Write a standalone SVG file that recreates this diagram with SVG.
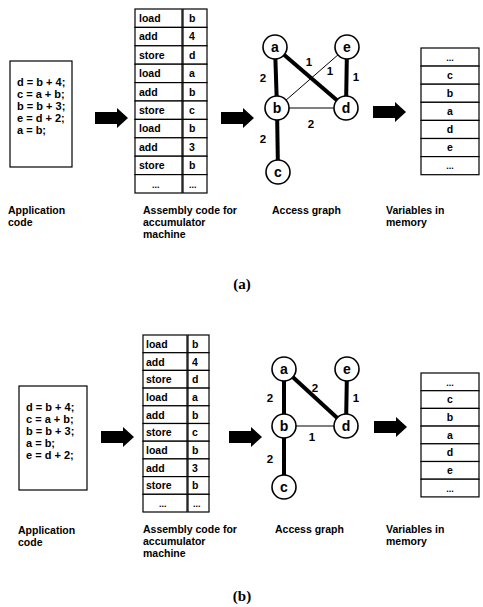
<svg xmlns="http://www.w3.org/2000/svg" width="483" height="607" viewBox="0 0 483 607">
<style>
text{font-family:"Liberation Sans",Arial,sans-serif;font-weight:bold;fill:#000}
.code{font-size:11px}
.cell{font-size:10.5px}
.dots{font-size:9px;fill:#000}
.lbl{font-size:10.5px}
.node{font-size:14px;text-anchor:middle}
.ew{font-size:11.5px;text-anchor:middle}
.mem{font-size:10.5px;text-anchor:middle}
.cap{font-family:"Liberation Serif","Times New Roman",serif;font-size:15px;text-anchor:middle}
.box{fill:#fff;stroke:#000;stroke-width:1.2}
.circ{fill:#fff;stroke:#000;stroke-width:1.6}
.thick{stroke:#000;stroke-width:4}
.thin{stroke:#000;stroke-width:1}
.arr{fill:#000}
</style>
<defs>
<path id="barrow" d="M0,-6 H22 V-10 L33,0 L22,10 V6 H0 Z"/>
</defs>

<!-- ===== Panel (a) ===== -->
<g id="a-code">
<rect class="box" x="10" y="61" width="62" height="106"/>
<text class="code" x="17" y="86">d = b + 4;</text>
<text class="code" x="17" y="98">c = a + b;</text>
<text class="code" x="17" y="110">b = b + 3;</text>
<text class="code" x="17" y="122">e = d + 2;</text>
<text class="code" x="17" y="134">a = b;</text>
</g>
<g id="a-asm">
<rect class="box" x="135" y="9" width="47" height="18.4"/><rect class="box" x="183" y="9" width="24" height="18.4"/>
<rect class="box" x="135" y="27.4" width="47" height="18.4"/><rect class="box" x="183" y="27.4" width="24" height="18.4"/>
<rect class="box" x="135" y="45.8" width="47" height="18.4"/><rect class="box" x="183" y="45.8" width="24" height="18.4"/>
<rect class="box" x="135" y="64.2" width="47" height="18.4"/><rect class="box" x="183" y="64.2" width="24" height="18.4"/>
<rect class="box" x="135" y="82.6" width="47" height="18.4"/><rect class="box" x="183" y="82.6" width="24" height="18.4"/>
<rect class="box" x="135" y="101" width="47" height="18.4"/><rect class="box" x="183" y="101" width="24" height="18.4"/>
<rect class="box" x="135" y="119.4" width="47" height="18.4"/><rect class="box" x="183" y="119.4" width="24" height="18.4"/>
<rect class="box" x="135" y="137.8" width="47" height="18.4"/><rect class="box" x="183" y="137.8" width="24" height="18.4"/>
<rect class="box" x="135" y="156.2" width="47" height="18.4"/><rect class="box" x="183" y="156.2" width="24" height="18.4"/>
<rect class="box" x="135" y="174.6" width="47" height="18.4"/><rect class="box" x="183" y="174.6" width="24" height="18.4"/>
<text class="cell" x="139" y="22">load</text><text class="cell" x="189" y="22">b</text>
<text class="cell" x="139" y="40">add</text><text class="cell" x="189" y="40">4</text>
<text class="cell" x="139" y="59">store</text><text class="cell" x="189" y="59">d</text>
<text class="cell" x="139" y="77">load</text><text class="cell" x="189" y="77">a</text>
<text class="cell" x="139" y="96">add</text><text class="cell" x="189" y="96">b</text>
<text class="cell" x="139" y="114">store</text><text class="cell" x="189" y="114">c</text>
<text class="cell" x="139" y="132">load</text><text class="cell" x="189" y="132">b</text>
<text class="cell" x="139" y="151">add</text><text class="cell" x="189" y="151">3</text>
<text class="cell" x="139" y="169">store</text><text class="cell" x="189" y="169">b</text>
<text class="dots" x="152" y="188">...</text><text class="dots" x="189" y="188">...</text>
</g>
<g id="a-connectors">
<use href="#barrow" class="arr" x="95" y="118"/>
<use href="#barrow" class="arr" x="221" y="118"/>
<use href="#barrow" class="arr" x="373" y="112"/>
<line class="thick" x1="275" y1="47" x2="277" y2="108"/>
<line class="thick" x1="275" y1="47" x2="346" y2="108"/>
<line class="thin" x1="347" y1="47" x2="277" y2="108"/>
<line class="thick" x1="347" y1="47" x2="346" y2="108"/>
<line class="thin" x1="277" y1="108" x2="346" y2="108"/>
<line class="thick" x1="277" y1="108" x2="278" y2="172"/>
<text class="ew" x="263" y="82">2</text>
<text class="ew" x="309" y="66">1</text>
<text class="ew" x="330" y="75">1</text>
<text class="ew" x="356" y="81">1</text>
<text class="ew" x="311" y="128">2</text>
<text class="ew" x="263" y="143">2</text>
</g>
<g id="a-node-a"><circle class="circ" cx="275" cy="47" r="12"/><text class="node" x="275" y="52">a</text></g>
<g id="a-node-e"><circle class="circ" cx="347" cy="47" r="12"/><text class="node" x="347" y="52">e</text></g>
<g id="a-node-b"><circle class="circ" cx="277" cy="108" r="12"/><text class="node" x="277" y="113">b</text></g>
<g id="a-node-d"><circle class="circ" cx="346" cy="108" r="12"/><text class="node" x="346" y="113">d</text></g>
<g id="a-node-c"><circle class="circ" cx="278" cy="172" r="12"/><text class="node" x="278" y="177">c</text></g>
<g id="a-mem">
<rect class="box" x="421" y="48" width="58" height="18.1"/>
<rect class="box" x="421" y="66.1" width="58" height="18.1"/>
<rect class="box" x="421" y="84.2" width="58" height="18.1"/>
<rect class="box" x="421" y="102.3" width="58" height="18.1"/>
<rect class="box" x="421" y="120.4" width="58" height="18.1"/>
<rect class="box" x="421" y="138.5" width="58" height="18.1"/>
<rect class="box" x="421" y="156.6" width="58" height="18.1"/>
<text class="dots" x="450" y="61" text-anchor="middle">...</text>
<text class="mem" x="450" y="79">c</text>
<text class="mem" x="450" y="97">b</text>
<text class="mem" x="450" y="115">a</text>
<text class="mem" x="450" y="133">d</text>
<text class="mem" x="450" y="151">e</text>
<text class="dots" x="450" y="169" text-anchor="middle">...</text>
</g>
<g id="a-labels">
<text class="lbl" x="8" y="214">Application</text>
<text class="lbl" x="8" y="226">code</text>
<text class="lbl" x="143" y="214">Assembly code for</text>
<text class="lbl" x="143" y="226">accumulator</text>
<text class="lbl" x="143" y="238">machine</text>
<text class="lbl" x="272" y="214">Access graph</text>
<text class="lbl" x="386" y="214">Variables in</text>
<text class="lbl" x="386" y="226">memory</text>
<text class="cap" x="242" y="289">(a)</text>
</g>

<!-- ===== Panel (b) ===== -->
<g id="b-code">
<rect class="box" x="19" y="386" width="68" height="104"/>
<text class="code" x="26" y="411">d = b + 4;</text>
<text class="code" x="26" y="423">c = a + b;</text>
<text class="code" x="26" y="435">b = b + 3;</text>
<text class="code" x="26" y="447">a = b;</text>
<text class="code" x="26" y="459">e = d + 2;</text>
</g>
<g id="b-asm">
<rect class="box" x="143" y="335" width="44" height="17.7"/><rect class="box" x="188" y="335" width="21" height="17.7"/>
<rect class="box" x="143" y="352.7" width="44" height="17.7"/><rect class="box" x="188" y="352.7" width="21" height="17.7"/>
<rect class="box" x="143" y="370.4" width="44" height="17.7"/><rect class="box" x="188" y="370.4" width="21" height="17.7"/>
<rect class="box" x="143" y="388.1" width="44" height="17.7"/><rect class="box" x="188" y="388.1" width="21" height="17.7"/>
<rect class="box" x="143" y="405.8" width="44" height="17.7"/><rect class="box" x="188" y="405.8" width="21" height="17.7"/>
<rect class="box" x="143" y="423.5" width="44" height="17.7"/><rect class="box" x="188" y="423.5" width="21" height="17.7"/>
<rect class="box" x="143" y="441.2" width="44" height="17.7"/><rect class="box" x="188" y="441.2" width="21" height="17.7"/>
<rect class="box" x="143" y="458.9" width="44" height="17.7"/><rect class="box" x="188" y="458.9" width="21" height="17.7"/>
<rect class="box" x="143" y="476.6" width="44" height="17.7"/><rect class="box" x="188" y="476.6" width="21" height="17.7"/>
<rect class="box" x="143" y="494.3" width="44" height="17.7"/><rect class="box" x="188" y="494.3" width="21" height="17.7"/>
<text class="cell" x="146" y="348">load</text><text class="cell" x="192" y="348">b</text>
<text class="cell" x="146" y="366">add</text><text class="cell" x="192" y="366">4</text>
<text class="cell" x="146" y="383">store</text><text class="cell" x="192" y="383">d</text>
<text class="cell" x="146" y="401">load</text><text class="cell" x="192" y="401">a</text>
<text class="cell" x="146" y="419">add</text><text class="cell" x="192" y="419">b</text>
<text class="cell" x="146" y="436">store</text><text class="cell" x="192" y="436">c</text>
<text class="cell" x="146" y="454">load</text><text class="cell" x="192" y="454">b</text>
<text class="cell" x="146" y="472">add</text><text class="cell" x="192" y="472">3</text>
<text class="cell" x="146" y="489">store</text><text class="cell" x="192" y="489">b</text>
<text class="dots" x="159" y="507">...</text><text class="dots" x="193" y="507">...</text>
</g>
<g id="b-connectors">
<use href="#barrow" class="arr" x="101" y="437"/>
<use href="#barrow" class="arr" x="229" y="437"/>
<use href="#barrow" class="arr" x="374" y="427"/>
<line class="thick" x1="284" y1="369" x2="284" y2="426"/>
<line class="thick" x1="284" y1="369" x2="346" y2="426"/>
<line class="thick" x1="347" y1="369" x2="346" y2="426"/>
<line class="thin" x1="284" y1="426" x2="346" y2="426"/>
<line class="thick" x1="284" y1="426" x2="284" y2="487"/>
<text class="ew" x="270" y="402">2</text>
<text class="ew" x="315" y="392">2</text>
<text class="ew" x="356" y="402">1</text>
<text class="ew" x="312" y="441">1</text>
<text class="ew" x="270" y="463">2</text>
</g>
<g id="b-node-a"><circle class="circ" cx="284" cy="369" r="12"/><text class="node" x="284" y="374">a</text></g>
<g id="b-node-e"><circle class="circ" cx="347" cy="369" r="12"/><text class="node" x="347" y="374">e</text></g>
<g id="b-node-b"><circle class="circ" cx="284" cy="426" r="12"/><text class="node" x="284" y="431">b</text></g>
<g id="b-node-d"><circle class="circ" cx="346" cy="426" r="12"/><text class="node" x="346" y="431">d</text></g>
<g id="b-node-c"><circle class="circ" cx="284" cy="487" r="12"/><text class="node" x="284" y="492">c</text></g>
<g id="b-mem">
<rect class="box" x="421" y="373" width="58" height="17.7"/>
<rect class="box" x="421" y="390.7" width="58" height="17.7"/>
<rect class="box" x="421" y="408.4" width="58" height="17.7"/>
<rect class="box" x="421" y="426.1" width="58" height="17.7"/>
<rect class="box" x="421" y="443.8" width="58" height="17.7"/>
<rect class="box" x="421" y="461.5" width="58" height="17.7"/>
<rect class="box" x="421" y="479.2" width="58" height="17.7"/>
<text class="dots" x="450" y="386" text-anchor="middle">...</text>
<text class="mem" x="450" y="403">c</text>
<text class="mem" x="450" y="421">b</text>
<text class="mem" x="450" y="439">a</text>
<text class="mem" x="450" y="456">d</text>
<text class="mem" x="450" y="474">e</text>
<text class="dots" x="450" y="492" text-anchor="middle">...</text>
</g>
<g id="b-labels">
<text class="lbl" x="18" y="534">Application</text>
<text class="lbl" x="18" y="546">code</text>
<text class="lbl" x="143" y="533">Assembly code for</text>
<text class="lbl" x="143" y="545">accumulator</text>
<text class="lbl" x="143" y="557">machine</text>
<text class="lbl" x="275" y="533">Access graph</text>
<text class="lbl" x="386" y="533">Variables in</text>
<text class="lbl" x="386" y="545">memory</text>
<text class="cap" x="242" y="601">(b)</text>
</g>
</svg>
